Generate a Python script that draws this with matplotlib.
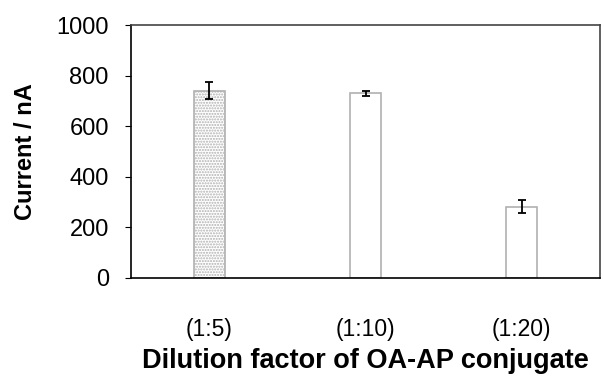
import matplotlib
matplotlib.use("Agg")
import matplotlib.pyplot as plt
import numpy as np

categories = ["(1:5)", "(1:10)", "(1:20)"]
current = [741, 730, 282]
errors = [35, 11, 25]
yticks = [0, 200, 400, 600, 800, 1000]

plt.rcParams['font.family'] = ['Liberation Sans', 'DejaVu Sans']
plt.rcParams['hatch.color'] = '#999999'

fig = plt.figure(figsize=(6.04, 3.81), dpi=100)
ax = fig.add_axes([131/604, 1-278/381, (600-131)/604, (278-25)/381])

x = np.arange(len(categories))
bars = ax.bar(x, current, width=0.2, color='white', edgecolor='#b0b0b0', linewidth=1.2, zorder=2)
bars[0].set_hatch('......')
ax.errorbar(x, current, yerr=errors, fmt='none', ecolor='black', elinewidth=1.3,
            capsize=3, capthick=1.3, zorder=3)

ax.set_xlim(-0.5, len(categories) - 0.5)
ax.set_ylim(0, 1000)
ax.set_yticks(yticks)
ax.set_yticklabels([str(v) for v in yticks], fontsize=17)
ax.set_xticks(x)
ax.set_xticklabels(categories, fontsize=16.5)
ax.tick_params(axis='x', length=0, pad=29)
ax.tick_params(axis='y', direction='out', length=4, pad=12)
for s in ax.spines.values():
    s.set_linewidth(1.2)
    s.set_color('black')
for s in ['top', 'right']:
    ax.spines[s].set_color('#444444')

ax.set_ylabel("Current / nA", fontsize=17, fontweight='bold')
ax.set_xlabel("Dilution factor of OA-AP conjugate", fontsize=19.5, fontweight='bold')
ax.yaxis.set_label_coords(-0.2, 0.5)
ax.xaxis.set_label_coords(0.5, -0.328)
ax.xaxis.label.set_va('center')

fig.savefig("out.png", dpi=100)
